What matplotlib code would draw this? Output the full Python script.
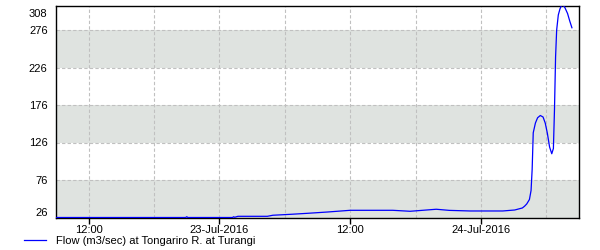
import matplotlib
matplotlib.use('Agg')
import matplotlib.pyplot as plt
import matplotlib.dates as mdates
from matplotlib.ticker import FixedLocator, FuncFormatter
from matplotlib.transforms import ScaledTranslation
from datetime import datetime, timedelta

plt.rcParams['font.family'] = ['Liberation Sans', 'DejaVu Sans']

# flow series: hours after 22-Jul-2016 09:00, flow in m3/sec
hours = [0.0, 11.9, 12.0, 12.1, 16.2, 16.3, 16.4, 16.7, 19.4, 19.9, 21.6, 23.1, 24.9,
         27.0, 30.9, 32.5, 34.9, 36.1, 38.0, 41.0, 42.1, 42.8, 43.0, 43.2, 43.45,
         43.6, 43.7, 43.8, 44.0, 44.2, 44.45, 44.7, 44.9, 45.1, 45.3, 45.5, 45.65,
         45.75, 45.85, 45.95, 46.1, 46.25, 46.4, 46.55, 46.7, 46.95, 47.15, 47.35]
flow = [26.0, 26.0, 27.0, 26.0, 26.0, 27.0, 26.3, 27.6, 27.6, 29.0, 30.3, 31.6, 33.3,
        35.6, 35.6, 34.3, 37.0, 35.5, 34.7, 34.7, 36.0, 38.7, 41.0, 44.0, 50.0,
        62.0, 90.0, 139.0, 152.0, 159.0, 162.0, 160.0, 152.0, 138.0, 120.0, 111.0, 118.0,
        170.0, 240.0, 276.0, 296.0, 304.0, 309.0, 309.0, 306.0, 298.0, 288.0, 279.0]

y_ticks = [26, 76, 126, 176, 226, 276, 308]
bands = [(26, 76), (126, 176), (226, 276)]
series_label = 'Flow (m3/sec) at Tongariro R. at Turangi'

t0 = datetime(2016, 7, 22, 9, 0)
times = [t0 + timedelta(hours=h) for h in hours]

fig = plt.figure(figsize=(6, 2.5), dpi=100)
ax = fig.add_axes([56 / 600, 1 - 217.5 / 250, 523 / 600, 211.5 / 250])

for lo, hi in bands:
    ax.axhspan(lo, hi, color='#dfe3e0', zorder=0, lw=0)

grid_kw = dict(color='#c0c0c0', ls=(0, (3, 2)), lw=0.8, zorder=1)
for y in y_ticks[1:-1]:
    ax.axhline(y, **grid_kw)
t = datetime(2016, 7, 22, 12)
while t < datetime(2016, 7, 24, 9):
    ax.axvline(mdates.date2num(t), **grid_kw)
    t += timedelta(hours=6)

ax.plot(times, flow, color='#0000ff', lw=0.9, zorder=3, label=series_label)

ax.set_xlim(t0, datetime(2016, 7, 24, 9))
ax.set_ylim(26, 308)
ax.set_yticks(y_ticks)
ax.tick_params(axis='y', length=0, pad=6, labelsize=8)

major = [mdates.date2num(datetime(2016, 7, 22, 12) + timedelta(hours=12 * i)) for i in range(4)]
ax.xaxis.set_major_locator(FixedLocator(major))


def fmt(x, pos):
    d = mdates.num2date(x)
    if d.hour == 0:
        return d.strftime('%d-%b-%Y')
    return d.strftime('%H:%M')


ax.xaxis.set_major_formatter(FuncFormatter(fmt))
ax.tick_params(axis='x', length=4, width=1, pad=1.5, labelsize=8, direction='out')

for s in ax.spines.values():
    s.set_linewidth(1.0)
    s.set_color('black')

# end labels are nudged inwards, as in the source chart
yt = ax.yaxis.get_major_ticks()
for tk, dy in ((yt[0], 6), (yt[-1], -7)):
    tk.label1.set_transform(tk.label1.get_transform()
                            + ScaledTranslation(0, dy / 100, fig.dpi_scale_trans))

fig.legend(loc='center left', bbox_to_anchor=(0.04, 0.036), frameon=False,
           fontsize=8, handlelength=2.0, handletextpad=0.9, borderpad=0, borderaxespad=0)

fig.savefig('out.png', dpi=100)
